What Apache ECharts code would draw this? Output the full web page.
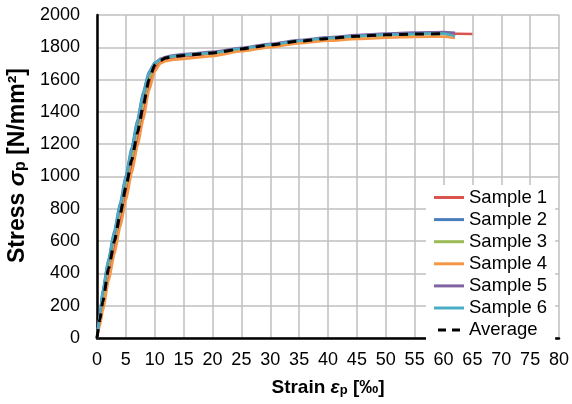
<!DOCTYPE html>
<html>
<head>
<meta charset="utf-8">
<script src="https://cdn.jsdelivr.net/npm/echarts@6/dist/echarts.min.js"></script>
<style>html,body{margin:0;padding:0;background:#fff}#c{width:572px;height:404px}</style>
</head>
<body>
<div id="c"></div>
<script>
// Strain points (‰) shared by all curves up to 60 ‰
const strainBase = [0, 0.5, 1, 2, 3, 4, 5, 6, 7, 8, 9, 10, 11, 12, 13, 15, 20, 25, 30, 35, 40, 45, 50, 55, 60];

const sample1Strain = [...strainBase, 65];
const sample1Stress = [0, 95, 195, 390, 558, 726, 894, 1062, 1230, 1398, 1560, 1670, 1712, 1728, 1736, 1745, 1760, 1787, 1812, 1836, 1853, 1866, 1876, 1882, 1885, 1882];

const sample2Strain = [...strainBase, 61.5];
const sample2Stress = [0, 150, 300, 493, 665, 837, 1009, 1181, 1353, 1525, 1650, 1705, 1725, 1735, 1742, 1752, 1768, 1793, 1818, 1840, 1857, 1870, 1878, 1883, 1885, 1876];

const sample3Strain = [...strainBase, 61];
const sample3Stress = [0, 120, 235, 440, 608, 776, 944, 1112, 1280, 1448, 1605, 1693, 1722, 1735, 1742, 1750, 1763, 1788, 1812, 1835, 1853, 1866, 1875, 1880, 1882, 1878];

const sample4Strain = [...strainBase, 62];
const sample4Stress = [0, 75, 165, 349, 516, 683, 850, 1017, 1184, 1350, 1530, 1650, 1700, 1715, 1722, 1728, 1745, 1775, 1800, 1825, 1840, 1851, 1859, 1864, 1866, 1858];

const sample5Strain = [...strainBase, 62];
const sample5Stress = [0, 140, 280, 470, 641, 812, 983, 1154, 1325, 1496, 1635, 1703, 1730, 1742, 1750, 1758, 1772, 1797, 1822, 1845, 1862, 1876, 1885, 1891, 1894, 1890];

const sample6Strain = [...strainBase, 62];
const sample6Stress = [0, 145, 292, 485, 656, 827, 998, 1169, 1340, 1511, 1643, 1704, 1724, 1736, 1744, 1753, 1767, 1792, 1817, 1840, 1857, 1870, 1879, 1884, 1886, 1868];

const averageStrain = [...strainBase];
const averageStress = [0, 115, 225, 430, 598, 766, 934, 1102, 1270, 1438, 1600, 1690, 1720, 1735, 1742, 1750, 1765, 1790, 1815, 1838, 1855, 1868, 1877, 1882, 1884];

const seriesNames = ['Sample 1', 'Sample 2', 'Sample 3', 'Sample 4', 'Sample 5', 'Sample 6', 'Average'];
const seriesColors = ['#D9534F', '#4A7EBB', '#9BBB59', '#F79646', '#8064A2', '#4BACC6', '#000000'];

const strains = [sample1Strain, sample2Strain, sample3Strain, sample4Strain, sample5Strain, sample6Strain, averageStrain];
const stresses = [sample1Stress, sample2Stress, sample3Stress, sample4Stress, sample5Stress, sample6Stress, averageStress];

const FONT = '"Liberation Sans", Arial, sans-serif';

const series = seriesNames.map((name, i) => ({
  name: name,
  type: 'line',
  data: strains[i].map((x, j) => [x, stresses[i][j]]),
  showSymbol: false,
  symbol: 'none',
  smooth: 0.2,
  smoothMonotone: 'x',
  color: seriesColors[i],
  lineStyle: i === 6
    ? { color: '#000', width: 3, type: [9, 7] }
    : { color: seriesColors[i], width: 2.5 },
  z: 2 + i
}));

const SOLID_ICON = 'path://M0,0h30v3h-30z';
const DASH_ICON = 'path://M0,0h8v3h-8zM14,0h8v3h-8z';

const titleRich = (fs, lead) => ({
  b0: { fontFamily: FONT, fontSize: fs, fontWeight: 'bold', color: '#000', lineHeight: fs, verticalAlign: 'top', padding: [0, 0, 0, lead] },
  b: { fontFamily: FONT, fontSize: fs, fontWeight: 'bold', color: '#000', lineHeight: fs, verticalAlign: 'top' },
  g: { fontFamily: FONT, fontSize: fs, fontWeight: 'bold', fontStyle: 'italic', color: '#000', lineHeight: fs, verticalAlign: 'top' },
  sub: { fontFamily: FONT, fontSize: Math.round(fs * 0.7), fontWeight: 'bold', color: '#000', lineHeight: Math.round(fs * 0.7), padding: [Math.round(fs * 0.55), 0, 0, 0], verticalAlign: 'bottom' }
});

const chart = echarts.init(document.getElementById('c'), null, { renderer: 'canvas' });
chart.setOption({
  animation: false,
  backgroundColor: '#fff',
  textStyle: { fontFamily: FONT },
  grid: { left: 97, right: 13, top: 15, bottom: 66, containLabel: false, outerBoundsMode: 'none' },
  legend: {
    orient: 'vertical',
    left: 426,
    top: 185,
    backgroundColor: '#fff',
    padding: [3, 8, 3, 8],
    itemWidth: 30,
    itemHeight: 3,
    itemGap: 3.1,
    textStyle: { fontFamily: FONT, fontSize: 18.5, color: '#000', lineHeight: 18 },
    data: seriesNames.map((n, i) => ({ name: n, icon: i === 6 ? DASH_ICON : SOLID_ICON }))
  },
  xAxis: {
    type: 'value',
    min: 0, max: 80, interval: 5,
    name: '{b0|Strain }{g|ε}{sub|p}{b| [‰]}',
    nameLocation: 'middle',
    nameGap: 36,
    nameTextStyle: { rich: titleRich(19, 0) },
    axisLine: { show: true, lineStyle: { color: '#000', width: 2.5 } },
    axisTick: { show: false },
    axisLabel: { fontFamily: FONT, fontSize: 18, color: '#000', margin: 13 },
    splitLine: { show: true, lineStyle: { color: '#BFBFBF', width: 1.5 } }
  },
  yAxis: {
    type: 'value',
    min: 0, max: 2000, interval: 200,
    name: '{b0|Stress }{g|σ}{sub|p}{b| [N/mm²]}',
    nameLocation: 'middle',
    nameRotate: 90,
    nameGap: 61,
    nameTextStyle: { rich: titleRich(23, 22) },
    axisLine: { show: true, lineStyle: { color: '#000', width: 2.5 } },
    axisTick: { show: false },
    axisLabel: { fontFamily: FONT, fontSize: 18, color: '#000', margin: 17, formatter: (v) => String(v) },
    splitLine: { show: true, lineStyle: { color: '#BFBFBF', width: 1.5 } }
  },
  series: series
});
</script>
</body>
</html>
